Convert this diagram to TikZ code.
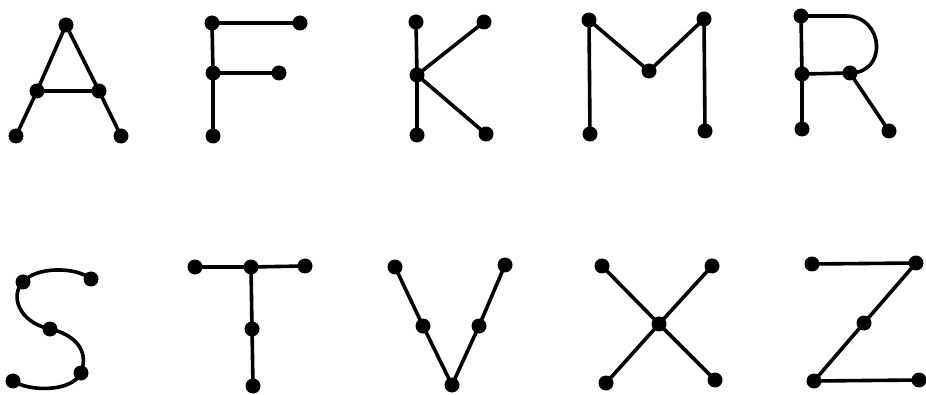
\documentclass[tikz,border=0pt]{standalone}
\begin{document}
\begin{tikzpicture}[x=1pt,y=-1pt,
  dot/.style={circle,fill=black,inner sep=0pt,minimum size=15pt},
  stroke/.style={line width=3.6pt,line cap=round,line join=round}]
\useasboundingbox (0,0) rectangle (926,395);
% A
\node[dot] (a1) at (66,25) {};
\node[dot] (a2) at (37,91) {};
\node[dot] (a3) at (99,91) {};
\node[dot] (a4) at (16,136) {};
\node[dot] (a5) at (121,136) {};
\draw[stroke] (a4.center) -- (a2.center) -- (a1.center) -- (a3.center) -- (a5.center);
\draw[stroke] (a2.center) -- (a3.center);
% F
\node[dot] (f1) at (212,23) {};
\node[dot] (f2) at (300,23) {};
\node[dot] (f3) at (213,73) {};
\node[dot] (f4) at (279,73) {};
\node[dot] (f5) at (213,136) {};
\draw[stroke] (f2.center) -- (f1.center) -- (f3.center) -- (f5.center);
\draw[stroke] (f3.center) -- (f4.center);
% K
\node[dot] (k1) at (416,22) {};
\node[dot] (k2) at (484,22) {};
\node[dot] (k3) at (417,75) {};
\node[dot] (k4) at (417,135) {};
\node[dot] (k5) at (486,134) {};
\draw[stroke] (k1.center) -- (k3.center) -- (k4.center);
\draw[stroke] (k2.center) -- (k3.center) -- (k5.center);
% M
\node[dot] (m1) at (589,20) {};
\node[dot] (m2) at (704,19) {};
\node[dot] (m3) at (649,71) {};
\node[dot] (m4) at (590,134) {};
\node[dot] (m5) at (705,131) {};
\draw[stroke] (m4.center) -- (m1.center) -- (m3.center) -- (m2.center) -- (m5.center);
% R
\node[dot] (r1) at (801,16) {};
\node[dot] (r2) at (802,74) {};
\node[dot] (r3) at (850,73) {};
\node[dot] (r4) at (802,129) {};
\node[dot] (r5) at (889,131) {};
\coordinate (rc) at (846,16);
\draw[stroke] (r4.center) -- (r2.center) -- (r1.center) -- (rc)
  .. controls (884,16) and (888,73) .. (r3.center) -- (r2.center);
\draw[stroke] (r3.center) -- (r5.center);
% S
\node[dot] (s1) at (91,279) {};
\node[dot] (s2) at (23,282) {};
\node[dot] (s3) at (50,329) {};
\node[dot] (s4) at (81,373) {};
\node[dot] (s5) at (13,381) {};
\draw[stroke] (s1.center) .. controls (75,266) and (35,267) .. (s2.center)
  .. controls (10,295) and (18,322) .. (s3.center)
  .. controls (72,334) and (90,348) .. (s4.center)
  .. controls (72,392) and (30,392) .. (s5.center);
% T
\node[dot] (t1) at (195,267) {};
\node[dot] (t2) at (251,267) {};
\node[dot] (t3) at (305,266) {};
\node[dot] (t4) at (252,329) {};
\node[dot] (t5) at (253,386) {};
\draw[stroke] (t1.center) -- (t2.center) -- (t3.center);
\draw[stroke] (t2.center) -- (t4.center) -- (t5.center);
% V
\node[dot] (v1) at (395,267) {};
\node[dot] (v2) at (423,326) {};
\node[dot] (v3) at (452,385) {};
\node[dot] (v4) at (479,326) {};
\node[dot] (v5) at (505,265) {};
\draw[stroke] (v1.center) -- (v2.center) -- (v3.center) -- (v4.center) -- (v5.center);
% X
\node[dot] (x1) at (602,266) {};
\node[dot] (x2) at (712,266) {};
\node[dot] (x3) at (659,324) {};
\node[dot] (x4) at (606,383) {};
\node[dot] (x5) at (715,380) {};
\draw[stroke] (x1.center) -- (x3.center) -- (x5.center);
\draw[stroke] (x2.center) -- (x3.center) -- (x4.center);
% Z
\node[dot] (z1) at (812,264) {};
\node[dot] (z2) at (916,263) {};
\node[dot] (z3) at (864,323) {};
\node[dot] (z4) at (814,381) {};
\node[dot] (z5) at (919,380) {};
\draw[stroke] (z1.center) -- (z2.center) -- (z3.center) -- (z4.center) -- (z5.center);
\end{tikzpicture}
\end{document}
